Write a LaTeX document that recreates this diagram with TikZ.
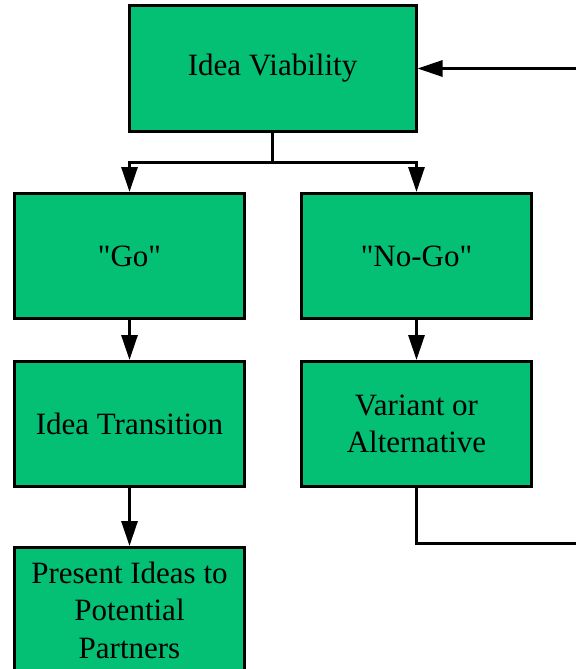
\documentclass[tikz,border=0pt]{standalone}
\usepackage{fontspec}
\setmainfont{Liberation Serif}[Ligatures=TeXOff]
\usepackage{tikz}
\usetikzlibrary{arrows.meta}
\definecolor{boxgreen}{RGB}{3,192,116}

\begin{document}
\begin{tikzpicture}[x=1pt,y=-1pt,
    block/.style={draw=black, line width=3pt, fill=boxgreen, align=center,
        minimum width=230pt, minimum height=125pt, inner sep=0pt,
        font=\fontsize{31}{37.5}\selectfont},
    link/.style={line width=3pt},
    arr/.style={link, -{Triangle[length=25pt,width=16pt]}}]

        \useasboundingbox (0,0) rectangle (576,669);

        %blocks
        \node[block, minimum width=287pt] (viab) at (272.5,68.5) {Idea Viability};
        \node[block] (go) at (129.5,256) {"Go"};
        \node[block] (nogo) at (416.5,256) {"No-Go"};
        \node[block] (trans) at (129.5,424) {Idea Transition};
        \node[block] (variant) at (416.5,424) {Variant or\\Alternative};
        \node[block] (present) at (129.5,610) {Present Ideas to\\Potential\\Partners};

        %links
        \coordinate (split) at (272.5,162);
        \coordinate (back) at (576,543);
        \coordinate (ret) at (576,68.5);
        \draw[link] (viab.south) -- (split);
        \draw[arr] (split) -| (go.north);
        \draw[arr] (split) -| (nogo.north);
        \draw[arr] (go) -- (trans);
        \draw[arr] (nogo) -- (variant);
        \draw[arr] (trans) -- (present);
        \draw[link] (variant.south) |- (back);
        \draw[arr] (ret) -- (viab.east);

    \end{tikzpicture}
\end{document}
